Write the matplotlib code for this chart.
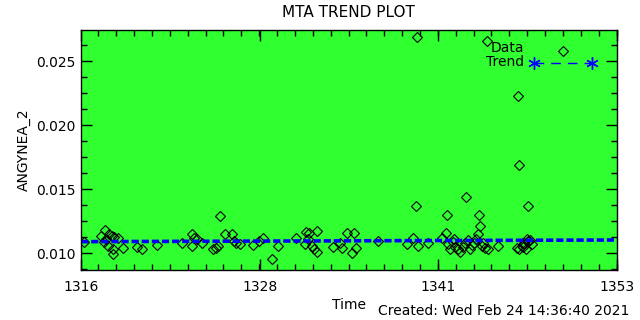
import matplotlib
matplotlib.use("Agg")
import matplotlib.pyplot as plt
from matplotlib.ticker import MultipleLocator, FixedLocator, FixedFormatter

# data (time in days, value of ANGYNEA_2)
time = [1316.21, 1317.66, 1317.36, 1317.95, 1318.12, 1318.28, 1318.53, 1317.88,
        1318.19, 1318.23, 1317.73, 1317.59, 1318.92, 1319.89, 1320.23, 1321.23,
        1322.95, 1323.64, 1323.82, 1323.99, 1323.68, 1324.33, 1325.60, 1325.13,
        1325.30, 1325.48, 1325.94, 1326.40, 1326.58, 1326.68, 1326.98, 1327.89,
        1328.29, 1328.58, 1329.58, 1329.16, 1330.84, 1331.53, 1331.76, 1332.27,
        1331.46, 1331.93, 1332.08, 1332.31, 1331.67, 1333.42, 1333.88, 1334.00,
        1334.38, 1334.87, 1334.96, 1334.69, 1336.52, 1338.48, 1338.94, 1339.12,
        1339.28, 1339.93, 1339.21, 1340.90, 1341.18, 1341.29, 1341.33, 1341.47,
        1341.70, 1341.82, 1342.04, 1342.16, 1342.37, 1342.51, 1342.58, 1342.71,
        1342.85, 1342.99, 1343.13, 1343.27, 1343.43, 1343.49, 1343.54, 1343.70,
        1343.89, 1344.07, 1343.77, 1344.03, 1344.76, 1346.08, 1346.23, 1346.42,
        1346.60, 1346.77, 1346.88, 1346.99, 1346.70, 1346.53, 1346.88, 1346.19,
        1346.26, 1349.27, 1347.13, 1341.77]
value = [0.01085, 0.01179, 0.01138, 0.01146, 0.01133, 0.01128, 0.01121, 0.01056,
         0.01031, 0.00992, 0.01108, 0.01085, 0.01044, 0.01052, 0.01031, 0.01064,
         0.01082, 0.01146, 0.01121, 0.01108, 0.01056, 0.01082, 0.01292, 0.01031,
         0.01044, 0.01056, 0.01146, 0.01152, 0.01095, 0.01082, 0.01069, 0.01062,
         0.01095, 0.01121, 0.01056, 0.00954, 0.01121, 0.01167, 0.01159, 0.01172,
         0.01069, 0.01056, 0.01036, 0.01013, 0.01108, 0.01048, 0.01082, 0.01044,
         0.01154, 0.01159, 0.01044, 0.01000, 0.01095, 0.01069, 0.01115, 0.01369,
         0.01056, 0.01077, 0.02690, 0.01121, 0.01154, 0.01300, 0.01069, 0.01031,
         0.01085, 0.01046, 0.01031, 0.01008, 0.01046, 0.01077, 0.01436, 0.01100,
         0.01031, 0.01062, 0.01077, 0.01108, 0.01146, 0.01300, 0.01215, 0.01056,
         0.01044, 0.01031, 0.01077, 0.02659, 0.01056, 0.01044, 0.01031, 0.01056,
         0.01077, 0.01108, 0.01095, 0.01102, 0.01031, 0.01052, 0.01372, 0.02228,
         0.01690, 0.02582, 0.01069, 0.01108]

trend_time = [1316.0, 1353.0]
trend_value = [0.01090, 0.01103]

xticks = [1316, 1316 + 37 / 3, 1316 + 74 / 3, 1353]
xlabels = ["1316", "1328", "1341", "1353"]
yticks = [0.010, 0.015, 0.020, 0.025]
ylabels = ["0.010", "0.015", "0.020", "0.025"]

green = "#30ff30"
blue = "#0000ff"

fig = plt.figure(figsize=(6.4, 3.2), dpi=100)
ax = fig.add_axes([0.1266, 0.156, 0.8375, 0.75])
ax.set_facecolor(green)

ax.plot(time, value, linestyle="none", marker="D", markersize=5.2,
        markerfacecolor="none", markeredgecolor="black", markeredgewidth=0.8)
ax.plot(trend_time, trend_value, color=blue, linewidth=2.6,
        linestyle=(0, (2.0, 0.8)))

ax.set_xlim(1316, 1353)
ax.set_ylim(0.00868, 0.02742)

ax.xaxis.set_major_locator(FixedLocator(xticks))
ax.xaxis.set_major_formatter(FixedFormatter(xlabels))
ax.xaxis.set_minor_locator(MultipleLocator(37 / 30))
ax.yaxis.set_major_locator(FixedLocator(yticks))
ax.yaxis.set_major_formatter(FixedFormatter(ylabels))
ax.yaxis.set_minor_locator(MultipleLocator(0.00125))

ax.tick_params(which="both", direction="in", top=True, right=True,
               colors="black", labelsize=10)
ax.tick_params(which="major", length=8, width=1)
ax.tick_params(which="minor", length=4, width=1)
ax.tick_params(axis="x", pad=7)
ax.tick_params(axis="y", pad=4)
for s in ax.spines.values():
    s.set_linewidth(1)

ax.set_xlabel("Time", fontsize=10, labelpad=3)
ax.set_ylabel("ANGYNEA_2", fontsize=10, labelpad=4)
fig.text(0.545, 0.962, "MTA TREND PLOT", ha="center", va="center", fontsize=11)
fig.text(0.983, 0.028, "Created: Wed Feb 24 14:36:40 2021", ha="right",
         va="center", fontsize=10)

# legend drawn by hand like the IDL original
ax.text(0.827, 0.924, "Data", transform=ax.transAxes, ha="right", va="center",
        fontsize=10)
ax.text(0.827, 0.865, "Trend", transform=ax.transAxes, ha="right", va="center",
        fontsize=10)
ax.plot([0.845, 0.953], [0.861, 0.861], transform=ax.transAxes, color=blue,
        linestyle=(0, (7, 5)), linewidth=1, marker=(6, 2, 0), markersize=9,
        markeredgewidth=1)

fig.savefig("out.png", dpi=100)
